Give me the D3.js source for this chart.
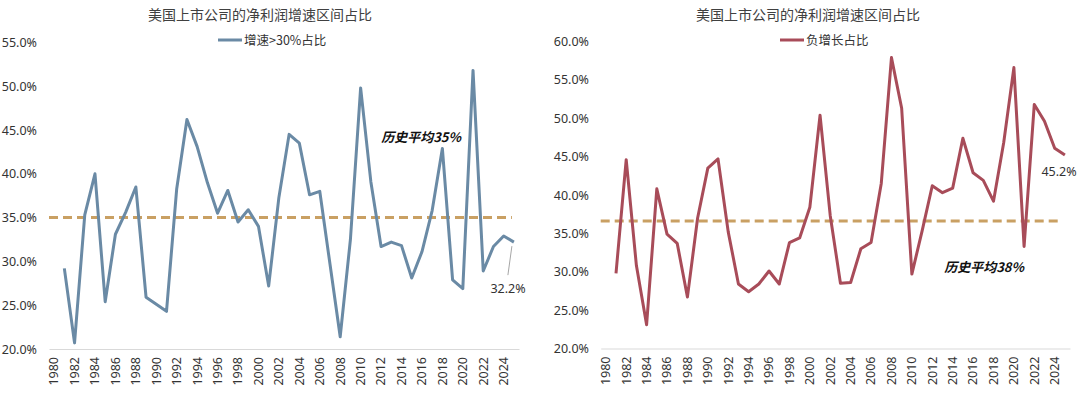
<!DOCTYPE html>
<html>
<head>
<meta charset="utf-8">
<script src="https://cdn.jsdelivr.net/npm/d3@7/dist/d3.min.js"></script>
<style>
body { margin: 0; background: #fff; }
text { font-family: "Noto Sans CJK SC", "Noto Sans", sans-serif; fill: #333; }
</style>
</head>
<body>
<script>
var years = d3.range(1980, 2026);
var dataYears = d3.range(1981, 2026);

var fastShare = [29.2, 20.7, 35.3, 40.0, 25.4, 33.1, 35.6, 38.5, 25.9, 25.1,
  24.3, 38.3, 46.2, 43.1, 39.0, 35.5, 38.1, 34.5, 35.9, 34.0,
  27.2, 37.3, 44.5, 43.5, 37.6, 38.0, 29.7, 21.4, 32.5, 49.8,
  39.1, 31.7, 32.2, 31.8, 28.1, 31.1, 35.8, 42.9, 27.9, 26.9,
  51.8, 28.9, 31.7, 32.9, 32.2];

var negShare = [29.8, 44.6, 30.8, 23.1, 40.8, 34.9, 33.7, 26.7, 37.0, 43.5,
  44.7, 35.2, 28.4, 27.4, 28.4, 30.1, 28.4, 33.8, 34.4, 38.4,
  50.4, 37.3, 28.5, 28.6, 33.0, 33.8, 41.5, 57.9, 51.3, 29.7,
  35.3, 41.2, 40.3, 40.9, 47.4, 42.9, 41.9, 39.2, 46.8, 56.6,
  33.3, 51.8, 49.6, 46.1, 45.2];

var leftTicks = [20, 25, 30, 35, 40, 45, 50, 55];
var rightTicks = [20, 25, 30, 35, 40, 45, 50, 55, 60];

var svg = d3.select('body').append('svg')
  .attr('width', 1080).attr('height', 398);

var drawPanel = function(cfg) {
  var g = svg.append('g');
  var x = d3.scaleBand().domain(years).range(cfg.xRange);
  var y = d3.scaleLinear().domain(cfg.yDomain).range([cfg.yBottom, cfg.yTop]);
  var cx = function(yr) { return x(yr) + x.bandwidth() / 2; };

  // title + legend
  g.append('text').attr('x', cfg.titleX).attr('y', 20)
    .attr('text-anchor', 'middle').style('font-size', '14px').style('fill', '#404040')
    .text('美国上市公司的净利润增速区间占比');
  g.append('line').attr('x1', cfg.legendX).attr('x2', cfg.legendX + 24)
    .attr('y1', 40).attr('y2', 40)
    .attr('stroke', cfg.color).attr('stroke-width', 3);
  g.append('text').attr('x', cfg.legendX + 26).attr('y', 44.5)
    .style('font-size', '12.5px').text(cfg.legend);

  // y axis labels (no line)
  var ya = d3.axisLeft(y).tickValues(cfg.ticks).tickSize(0).tickPadding(0)
    .tickFormat(function(d) { return d.toFixed(1) + '%'; });
  g.append('g').attr('transform', 'translate(' + cfg.yLabelX + ',0)').call(ya)
    .call(function(s) { s.select('.domain').remove(); })
    .selectAll('text').style('font-size', '12.5px').style('fill', '#333')
    .style('font-family', '"Noto Sans", sans-serif');

  // x axis
  var xa = d3.axisBottom(x).tickValues(years.filter(function(d) { return d % 2 === 0; }))
    .tickSize(0).tickPadding(8);
  var xg = g.append('g').attr('transform', 'translate(0,' + cfg.yBottom + ')').call(xa);
  xg.select('.domain').attr('stroke', '#d9d9d9');
  xg.selectAll('text')
    .attr('transform', 'rotate(-90)')
    .attr('x', -8).attr('y', 0).attr('dy', '0.35em')
    .style('text-anchor', 'end').style('font-size', '12.5px').style('fill', '#333')
    .style('font-family', '"Noto Sans", sans-serif');

  // average dashed line
  g.append('line')
    .attr('x1', cfg.xRange[0]).attr('x2', cx(2025) + cfg.avgExtra)
    .attr('y1', y(cfg.avg)).attr('y2', y(cfg.avg))
    .attr('stroke', '#c9a063').attr('stroke-width', 3)
    .attr('stroke-dasharray', '9,5');

  // series
  var line = d3.line()
    .x(function(d, i) { return cx(dataYears[i]); })
    .y(function(d) { return y(d); });
  g.append('path').datum(cfg.values)
    .attr('d', line).attr('fill', 'none')
    .attr('stroke', cfg.color).attr('stroke-width', 3)
    .attr('stroke-linejoin', 'round');

  // average annotation
  g.append('text').attr('x', cfg.avgLabel[0]).attr('y', cfg.avgLabel[1])
    .attr('text-anchor', 'end')
    .style('font-size', '13px').style('font-weight', 'bold').style('font-style', 'italic')
    .style('fill', '#111')
    .text(cfg.avgText);

  return { x: cx, y: y, g: g };
};

var left = drawPanel({
  xRange: [49, 519], yDomain: [20, 55], yBottom: 349, yTop: 42.4,
  ticks: leftTicks, yLabelX: 37, titleX: 260, legendX: 218,
  color: '#6a8aa5', legend: '增速>30%占比', values: fastShare,
  avg: 35.0, avgExtra: -2, avgText: '历史平均35%', avgLabel: [461, 142]
});

var right = drawPanel({
  xRange: [600.7, 1070], yDomain: [20, 60], yBottom: 348.5, yTop: 41.5,
  ticks: rightTicks, yLabelX: 589, titleX: 808, legendX: 780,
  color: '#a84c59', legend: '负增长占比', values: negShare,
  avg: 36.6, avgExtra: -7, avgText: '历史平均38%', avgLabel: [1024, 272]
});

// end value labels
var lastL = fastShare[fastShare.length - 1];
left.g.append('line')
  .attr('x1', left.x(2025) - 2).attr('y1', left.y(lastL) + 4)
  .attr('x2', left.x(2025) - 6).attr('y2', left.y(lastL) + 33)
  .attr('stroke', '#a6a6a6').attr('stroke-width', 1);
left.g.append('text').attr('x', 508).attr('y', 293)
  .attr('text-anchor', 'middle').style('font-size', '12.5px')
  .style('font-family', '"Noto Sans", sans-serif')
  .text(lastL.toFixed(1) + '%');

var lastR = negShare[negShare.length - 1];
right.g.append('text').attr('x', 1059).attr('y', 176)
  .attr('text-anchor', 'middle').style('font-size', '12.5px')
  .style('font-family', '"Noto Sans", sans-serif')
  .text(lastR.toFixed(1) + '%');
</script>
</body>
</html>
